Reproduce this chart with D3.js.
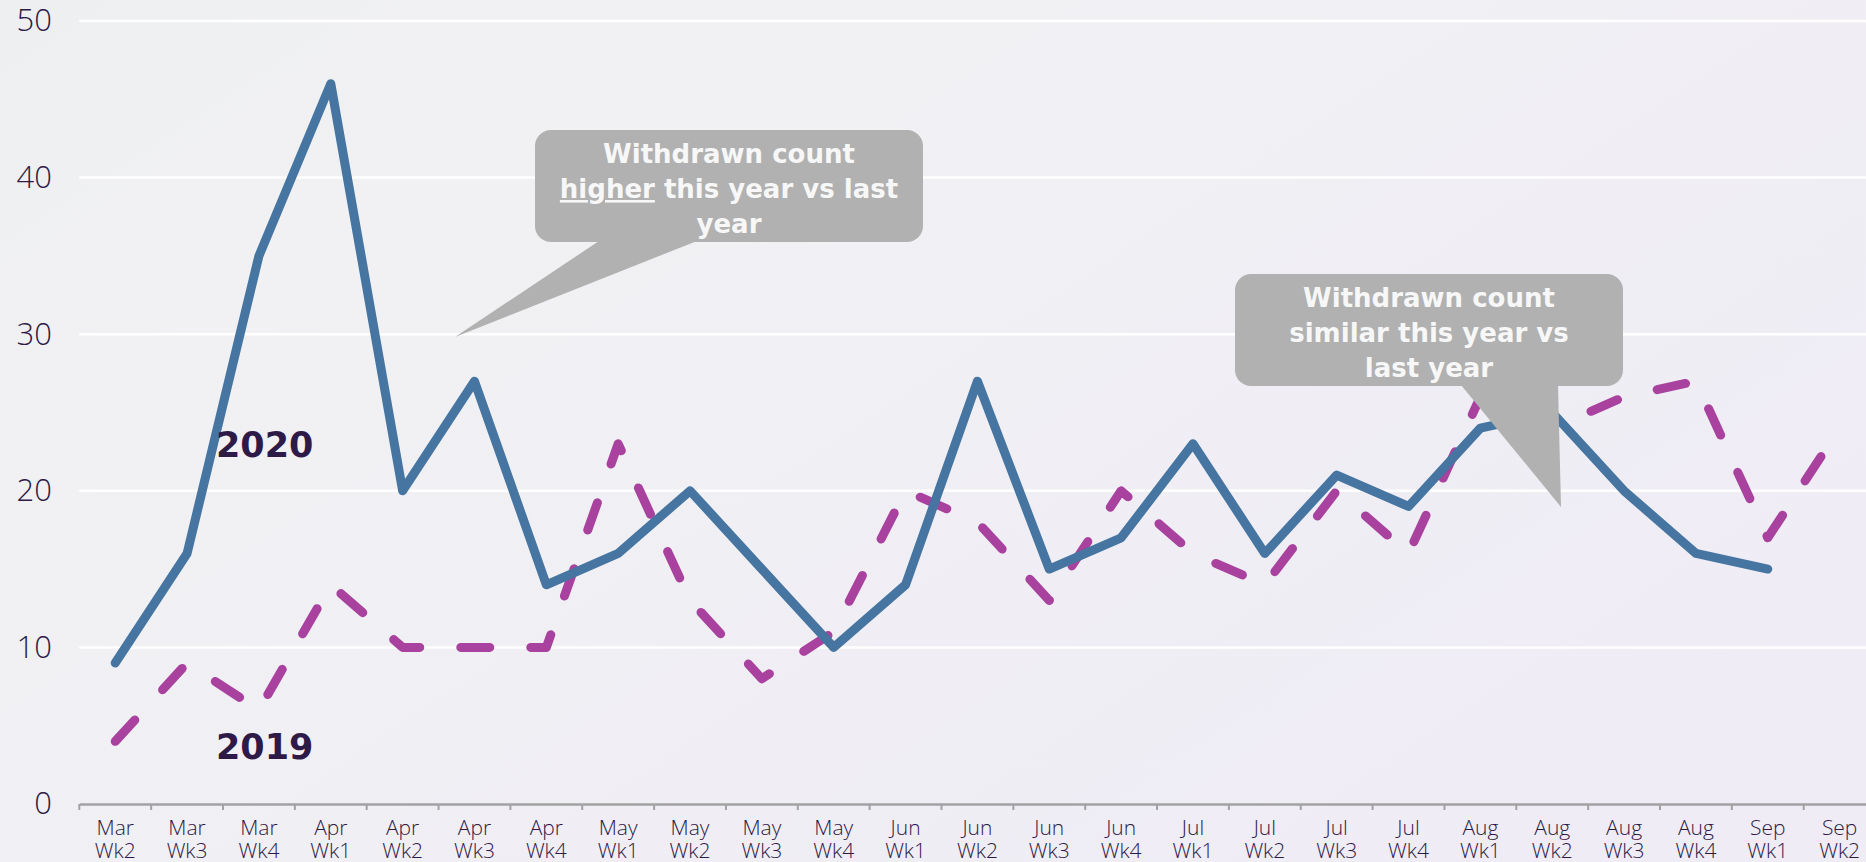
<!DOCTYPE html>
<html lang="en">
<head>
<meta charset="UTF-8" />
<script src="https://d3js.org/d3.v7.min.js"></script>
<title>Withdrawn count</title>
<style>
  body { margin: 0; background: #f0eff4; }
  svg { display: block; }
</style>
</head>
<body>
<script>
// weekly withdrawn counts
var cats = ["Mar Wk2","Mar Wk3","Mar Wk4","Apr Wk1","Apr Wk2","Apr Wk3","Apr Wk4",
            "May Wk1","May Wk2","May Wk3","May Wk4","Jun Wk1","Jun Wk2","Jun Wk3","Jun Wk4",
            "Jul Wk1","Jul Wk2","Jul Wk3","Jul Wk4","Aug Wk1","Aug Wk2","Aug Wk3","Aug Wk4",
            "Sep Wk1","Sep Wk2"];
var withdrawn2020 = [9,16,35,46,20,27,14,16,20,15,10,14,27,15,17,23,16,21,19,24,25,20,16,15,null];
var withdrawn2019 = [4,9,6,14,10,10,10,23,13,8,11,20,18,13,20,16,14,20,16,26,24,26,27,17,24];
var yTicks = [0,10,20,30,40,50];
var note1 = ["Withdrawn count", "higher", " this year vs last", "year"];
var note2 = ["Withdrawn count", "similar this year vs", "last year"];

var width = 1866, height = 862;
var textCol = "#2e1a47";

var svg = d3.select("body").append("svg").attr("width", width).attr("height", height);

var defs = svg.append("defs");
var grad = defs.append("linearGradient").attr("id", "bg")
  .attr("x1", 0).attr("y1", 0).attr("x2", 1).attr("y2", 0.7);
grad.append("stop").attr("offset", 0).attr("stop-color", "#eeeff0");
grad.append("stop").attr("offset", 0.25).attr("stop-color", "#f1f1f3");
grad.append("stop").attr("offset", 1).attr("stop-color", "#efecf5");
svg.append("rect").attr("width", width).attr("height", height).attr("fill", "url(#bg)");

var x = d3.scaleBand().domain(cats).range([79.3, 79.3 + 71.85 * cats.length]);
var y = d3.scaleLinear().domain([0, 50]).range([804, 21]);
var bw = x.bandwidth();

// gridlines
svg.append("g").selectAll("line").data(yTicks.filter(function(d){ return d > 0; }))
  .enter().append("line")
  .attr("x1", 79.3).attr("x2", width)
  .attr("y1", function(d){ return y(d); }).attr("y2", function(d){ return y(d); })
  .attr("stroke", "#ffffff").attr("stroke-width", 2.5);

// y axis labels
var yAxis = svg.append("g").attr("transform", "translate(79,0)")
  .call(d3.axisLeft(y).tickValues(yTicks).tickSize(0).tickPadding(27));
yAxis.select(".domain").remove();
yAxis.selectAll("text")
  .attr("font-family", "'Open Sans', sans-serif").attr("font-weight", 300)
  .attr("font-size", 31).attr("fill", textCol);

// x axis
var xAxis = svg.append("g").attr("transform", "translate(0," + y(0) + ")")
  .call(d3.axisBottom(x).tickSize(0).tickSizeOuter(0).tickPadding(0));
xAxis.select(".domain").attr("stroke", "#a2a2a4").attr("stroke-width", 2.5);
xAxis.selectAll(".tick text").remove();
xAxis.selectAll(".tick").each(function(d){
  var parts = d.split(" ");
  var tk = d3.select(this);
  tk.append("text").attr("y", 31).text(parts[0]);
  tk.append("text").attr("y", 54).text(parts[1]);
});
xAxis.selectAll("text")
  .attr("text-anchor", "middle")
  .attr("font-family", "'Open Sans', sans-serif").attr("font-weight", 300)
  .attr("font-size", 21).attr("fill", textCol);
xAxis.selectAll("line.bound").data(cats).enter().append("line").attr("class", "bound")
  .attr("x1", function(d){ return x(d); }).attr("x2", function(d){ return x(d); })
  .attr("y1", 0).attr("y2", 6)
  .attr("stroke", "#a2a2a4").attr("stroke-width", 2);

// series
var line = d3.line()
  .defined(function(d){ return d != null; })
  .x(function(d, i){ return x(cats[i]) + bw / 2; })
  .y(function(d){ return y(d); });

svg.append("path").datum(withdrawn2019)
  .attr("d", line).attr("fill", "none")
  .attr("stroke", "#a9419f").attr("stroke-width", 9)
  .attr("stroke-linecap", "round").attr("stroke-linejoin", "round")
  .attr("stroke-dasharray", "29,41");

svg.append("path").datum(withdrawn2020)
  .attr("d", line).attr("fill", "none")
  .attr("stroke", "#4575a0").attr("stroke-width", 9)
  .attr("stroke-linecap", "round").attr("stroke-linejoin", "round");

// series labels
svg.append("text").attr("x", 216).attr("y", 457).text("2020")
  .attr("font-family", "'DejaVu Sans', sans-serif").attr("font-weight", "bold")
  .attr("font-size", 35).attr("fill", textCol);
svg.append("text").attr("x", 216).attr("y", 759).text("2019")
  .attr("font-family", "'DejaVu Sans', sans-serif").attr("font-weight", "bold")
  .attr("font-size", 35).attr("fill", textCol);

// callouts
function bubble(rx, ry, rw, rh, tail) {
  var g = svg.append("g");
  g.append("rect").attr("x", rx).attr("y", ry).attr("width", rw).attr("height", rh)
    .attr("rx", 16).attr("fill", "#b0b1b0");
  g.append("path").attr("d", "M" + tail.join("L") + "Z").attr("fill", "#b0b1b0");
  return g;
}
function noteText(g) {
  return g.append("text").attr("text-anchor", "middle")
    .attr("font-family", "'DejaVu Sans', sans-serif").attr("font-weight", "bold")
    .attr("font-size", 26).attr("fill", "#f7f7f7");
}

var b1 = bubble(535, 130, 388, 112, [[599, 241], [697, 241], [455, 337]]);
var t1 = noteText(b1);
t1.append("tspan").attr("x", 729).attr("y", 163).text(note1[0]);
t1.append("tspan").attr("x", 729).attr("y", 198).text(note1[1])
  .attr("text-decoration", "underline");
t1.append("tspan").text(note1[2]);
t1.append("tspan").attr("x", 729).attr("y", 233).text(note1[3]);

var b2 = bubble(1235, 274, 388, 112, [[1461, 385], [1558, 385], [1561, 507]]);
var t2 = noteText(b2);
note2.forEach(function(s, i){
  t2.append("tspan").attr("x", 1429).attr("y", 307 + i * 35).text(s);
});
</script>
</body>
</html>
